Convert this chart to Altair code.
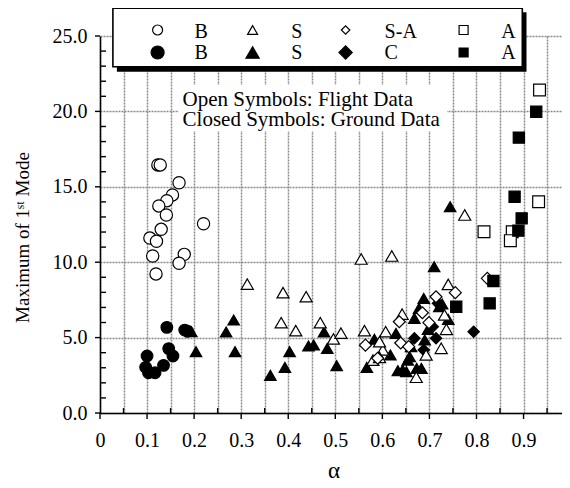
import altair as alt
import pandas as pd

# ---------------- data ----------------
# Flight data (open symbols)
b_flight_alpha = [0.123, 0.128, 0.168, 0.154, 0.142, 0.125, 0.141, 0.220, 0.130, 0.106, 0.120, 0.112, 0.179, 0.168, 0.119]
b_flight_max = [16.45, 16.45, 15.27, 14.46, 14.08, 13.73, 13.13, 12.55, 12.18, 11.60, 11.39, 10.41, 10.52, 9.93, 9.22]

s_flight_alpha = [0.313, 0.389, 0.438, 0.385, 0.416, 0.468, 0.496, 0.512, 0.775, 0.555, 0.620, 0.740,
                  0.562, 0.607, 0.601, 0.580, 0.594, 0.642, 0.732, 0.736, 0.725, 0.693, 0.672, 0.594]
s_flight_max = [8.55, 7.98, 7.71, 5.99, 5.46, 5.99, 4.91, 5.30, 13.13, 10.21, 10.41, 8.53,
                5.46, 5.39, 4.18, 3.51, 3.69, 6.56, 6.50, 5.55, 4.29, 3.85, 2.37, 4.73]

sa_flight_alpha = [0.823, 0.755, 0.714, 0.685, 0.699, 0.636, 0.639, 0.564, 0.656, 0.590]
sa_flight_max = [8.93, 7.98, 7.71, 6.65, 5.99, 6.05, 4.64, 4.50, 4.40, 3.63]

a_flight_alpha = [0.934, 0.932, 0.876, 0.816, 0.872]
a_flight_max = [21.42, 14.01, 12.02, 12.02, 11.43]

# Ground data (closed symbols)
b_ground_alpha = [0.142, 0.100, 0.146, 0.155, 0.097, 0.103, 0.117, 0.135, 0.180, 0.186]
b_ground_max = [5.68, 3.78, 4.27, 3.78, 3.03, 2.67, 2.67, 3.16, 5.50, 5.42]

s_ground_alpha = [0.194, 0.204, 0.284, 0.268, 0.287, 0.362, 0.393, 0.403, 0.443, 0.454, 0.483, 0.476,
                  0.503, 0.744, 0.710, 0.583, 0.567, 0.617, 0.629, 0.668, 0.678, 0.688, 0.727, 0.740,
                  0.697, 0.690, 0.658, 0.673, 0.651, 0.633, 0.643, 0.654, 0.661, 0.721, 0.683]
s_ground_max = [5.39, 4.07, 6.17, 5.37, 4.07, 2.50, 3.03, 4.07, 4.44, 4.51, 4.29, 5.37,
                3.14, 13.68, 9.70, 4.89, 3.03, 3.85, 5.28, 6.28, 6.94, 7.60, 7.23, 6.21,
                5.55, 4.84, 3.73, 2.96, 2.74, 2.81, 2.85, 3.51, 4.40, 7.05, 2.96]

c_ground_alpha = [0.794, 0.718, 0.707, 0.714, 0.668, 0.688]
c_ground_max = [5.39, 7.27, 5.72, 4.95, 4.95, 4.18]

a_ground_alpha = [0.927, 0.890, 0.881, 0.896, 0.889, 0.836, 0.828, 0.757]
a_ground_max = [19.98, 18.26, 14.34, 12.91, 12.09, 8.75, 7.27, 7.05]

# axis tick values
x_grid_values = [i * 5 / 100 for i in range(21)]
x_major_ticks = [i / 10 for i in range(11)]
x_minor_ticks = [(2 * i + 1) * 5 / 100 for i in range(10)]
y_major_ticks = [0, 5, 10, 15, 20, 25]
y_minor_ticks = [v for v in range(26) if v % 5]

# ---------------- long table ----------------
series_order = ["S_g", "C_g", "S_f", "SA_f", "B_g", "B_f", "A_f", "A_g"]
series_data = {
    "S_g": (s_ground_alpha, s_ground_max),
    "C_g": (c_ground_alpha, c_ground_max),
    "S_f": (s_flight_alpha, s_flight_max),
    "SA_f": (sa_flight_alpha, sa_flight_max),
    "B_g": (b_ground_alpha, b_ground_max),
    "B_f": (b_flight_alpha, b_flight_max),
    "A_f": (a_flight_alpha, a_flight_max),
    "A_g": (a_ground_alpha, a_ground_max),
}
rows = []
for k in series_order:
    xs, ys = series_data[k]
    for a, m in zip(xs, ys):
        rows.append({"alpha": a, "maxval": m, "series": k})
df = pd.DataFrame(rows)

shape_map = {"B_f": "circle", "S_f": "triangle-up", "SA_f": "diamond", "A_f": "square",
             "B_g": "circle", "S_g": "triangle-up", "C_g": "diamond", "A_g": "square"}
fill_map = {"B_f": "white", "S_f": "white", "SA_f": "white", "A_f": "white",
            "B_g": "black", "S_g": "black", "C_g": "black", "A_g": "black"}
size_map = {"B_f": 150, "S_f": 125, "SA_f": 95, "A_f": 60,
            "B_g": 175, "S_g": 170, "C_g": 140, "A_g": 90}
dom = list(shape_map.keys())

FONT = "Liberation Serif"
H = 377
W = 462
X_RANGE = 470.6

x_scale = alt.Scale(domain=[0, 1], range=[0, X_RANGE], nice=False, zero=False)
y_scale = alt.Scale(domain=[0, 25], nice=False, zero=False)

x_axis = alt.Axis(values=x_grid_values, grid=True, ticks=False, domain=True,
                  labelExpr="round(datum.value*20) % 2 == 1 ? '' : format(datum.value, '~g')",
                  labelPadding=17, labelFontSize=20, labelFont=FONT, labelColor="black",
                  labelFlush=False, labelOverlap=False,
                  title="α", titleFont=FONT, titleFontSize=23, titleFontWeight="normal",
                  titleColor="black", titleX=233.6, titleY=64, titleBaseline="alphabetic",
                  titleAlign="center")
y_axis = alt.Axis(values=y_major_ticks, format=".1f", grid=True, ticks=False, domain=True,
                  labelPadding=13, labelFontSize=20, labelFont=FONT, labelColor="black",
                  labelFlush=False,
                  title="Maximum of 1ˢᵗ Mode", titleFont=FONT, titleFontSize=19,
                  titleFontWeight="normal", titleColor="black", titleX=-78, titleY=201,
                  titleBaseline="middle", titleAlign="center", titleAngle=270)

points = alt.Chart(df).transform_window(idx="row_number()").mark_point(
    filled=True, stroke="black", strokeWidth=1.2, opacity=1).encode(
    x=alt.X("alpha:Q", scale=x_scale, axis=x_axis),
    y=alt.Y("maxval:Q", scale=y_scale, axis=y_axis),
    shape=alt.Shape("series:N", scale=alt.Scale(domain=dom, range=[shape_map[d] for d in dom]), legend=None),
    fill=alt.Fill("series:N", scale=alt.Scale(domain=dom, range=[fill_map[d] for d in dom]), legend=None),
    size=alt.Size("series:N", scale=alt.Scale(domain=dom, range=[size_map[d] for d in dom]), legend=None),
    order=alt.Order("idx:Q"),
)

tick_style = dict(color="black", strokeWidth=1.4)
x_major = alt.Chart(pd.DataFrame({"t": x_major_ticks})).mark_rule(**tick_style).encode(
    x=alt.X("t:Q", scale=x_scale, axis=x_axis), y=alt.value(H), y2=alt.value(H + 6))
x_minor = alt.Chart(pd.DataFrame({"t": x_minor_ticks})).mark_rule(**tick_style).encode(
    x=alt.X("t:Q", scale=x_scale, axis=x_axis), y=alt.value(H - 5), y2=alt.value(H))
y_major = alt.Chart(pd.DataFrame({"t": y_major_ticks})).mark_rule(**tick_style).encode(
    y=alt.Y("t:Q", scale=y_scale, axis=y_axis), x=alt.value(-5), x2=alt.value(0))
y_minor = alt.Chart(pd.DataFrame({"t": y_minor_ticks})).mark_rule(**tick_style).encode(
    y=alt.Y("t:Q", scale=y_scale, axis=y_axis), x=alt.value(0), x2=alt.value(6))

one = pd.DataFrame({"k": [0]})

# annotation with white background
note_bg = alt.Chart(one).mark_rect(fill="white").encode(
    x=alt.value(78.6), x2=alt.value(347), y=alt.value(49), y2=alt.value(95))
note1 = alt.Chart(one).mark_text(align="left", baseline="middle", font=FONT, fontSize=21, color="black").encode(
    x=alt.value(82.6), y=alt.value(64), text=alt.value("Open Symbols: Flight Data"))
note2 = alt.Chart(one).mark_text(align="left", baseline="middle", font=FONT, fontSize=21, color="black").encode(
    x=alt.value(82.6), y=alt.value(84), text=alt.value("Closed Symbols: Ground Data"))

# legend box with shadow
shadow = alt.Chart(one).mark_rect(fill="black").encode(
    x=alt.value(16.9), x2=alt.value(426.5), y=alt.value(-23.7), y2=alt.value(35.7))
box = alt.Chart(one).mark_rect(fill="white", stroke="black", strokeWidth=1.6).encode(
    x=alt.value(12.9), x2=alt.value(422.3), y=alt.value(-27.7), y2=alt.value(30.7))

legend_layers = []
legend_rows = [
    [("B_f", "B"), ("S_f", "S"), ("SA_f", "S-A"), ("A_f", "A")],
    [("B_g", "B"), ("S_g", "S"), ("C_g", "C"), ("A_g", "A")],
]
sym_x = [57.6, 152.6, 245.6, 363.6]
lab_x = [94.6, 191.3, 284.6, 401.3]
sym_y = [-6, 16.5]
lab_y = [-4.5, 17]
leg_size = {"B_f": 100, "S_f": 100, "SA_f": 72, "A_f": 81,
            "B_g": 170, "S_g": 175, "C_g": 175, "A_g": 81}
for r, items in enumerate(legend_rows):
    for c, (key, lab) in enumerate(items):
        legend_layers.append(
            alt.Chart(one).mark_point(shape=shape_map[key], filled=True, fill=fill_map[key], stroke="black",
                                      strokeWidth=1.2, opacity=1, size=leg_size[key]).encode(
                x=alt.value(sym_x[c]), y=alt.value(sym_y[r])))
        legend_layers.append(
            alt.Chart(one).mark_text(align="left", baseline="middle", font=FONT, fontSize=20,
                                     color="black").encode(
                x=alt.value(lab_x[c]), y=alt.value(lab_y[r]), text=alt.value(lab)))

chart = alt.layer(points, x_major, x_minor, y_major, y_minor, note_bg, note1, note2,
                  shadow, box, *legend_layers).properties(
    width=W, height=H,
    autosize=alt.AutoSizeParams(type="none"),
    padding={"left": 92, "top": 28, "right": 0, "bottom": 67},
).configure_view(strokeWidth=0).configure_axis(
    gridColor="#8a8a8a", gridWidth=1.5, gridDash=[2, 1], domainColor="black", domainWidth=1.5,
)

chart.save("out.html", embed_options={"renderer": "svg", "actions": False})
